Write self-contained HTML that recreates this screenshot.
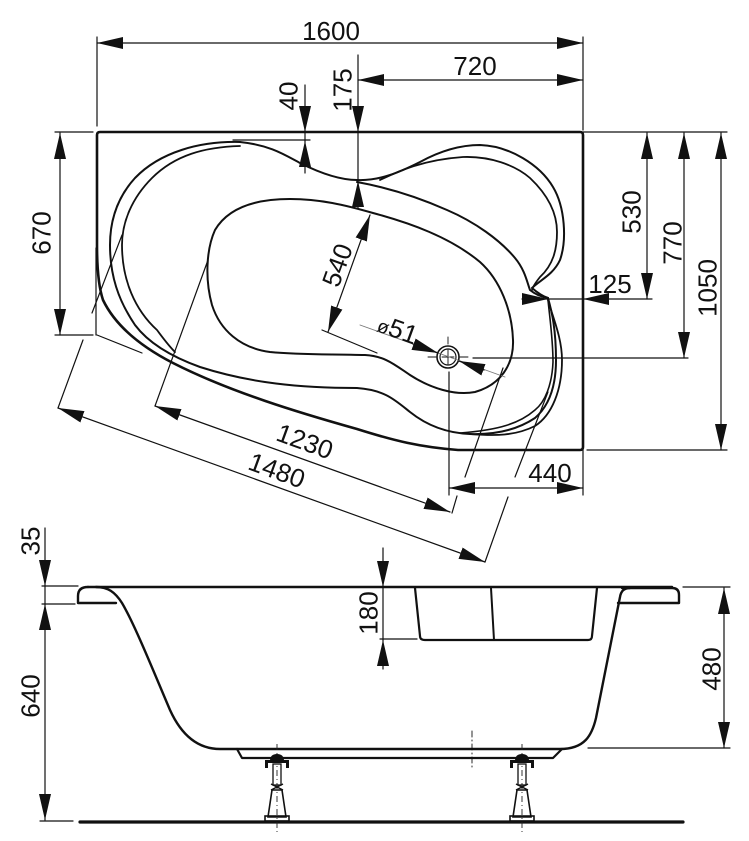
<!DOCTYPE html>
<html><head><meta charset="utf-8"><style>
html,body{margin:0;padding:0;background:#fff;}
svg{display:block;}
text{font-family:"Liberation Sans",Arial,sans-serif;font-size:26px;fill:#111;}
</style></head><body>
<svg width="749" height="841" viewBox="0 0 749 841" xmlns="http://www.w3.org/2000/svg">
<defs>
<marker id="ar" viewBox="0 0 26 12" refX="26" refY="6" markerWidth="26" markerHeight="12" markerUnits="userSpaceOnUse" orient="auto-start-reverse"><path d="M0,0 L26,6 L0,12 z" fill="#111"/></marker>
<g id="leg">
<line x1="0" y1="744" x2="0" y2="832" stroke="#222" stroke-width="0.9" stroke-dasharray="6 3 1 3"/>
<path d="M-7,761 Q-7,754 0,754 Q7,754 7,761 Z" fill="#111"/>
<rect x="-12" y="760" width="24" height="3" fill="#111"/>
<rect x="-12" y="760" width="3" height="8" fill="#111"/>
<rect x="9" y="760" width="3" height="8" fill="#111"/>
<rect x="-4" y="764" width="8" height="21" fill="none" stroke="#111" stroke-width="1.3"/>
<path d="M-6,784 L6,790 M6,784 L-6,790" stroke="#111" stroke-width="1.5"/>
<path d="M-5,790 L5,790 L9,817 L-9,817 Z" fill="none" stroke="#111" stroke-width="1.6"/>
<rect x="-12" y="816" width="24" height="5" fill="none" stroke="#111" stroke-width="1.6"/>
</g>
</defs>

<g fill="none" stroke="#111" stroke-linecap="round" stroke-linejoin="round">
<!-- ===== TOP VIEW ===== -->
<path d="M100,132 L580,132 Q583,132 583,135 L583,447 Q583,450 580,450 L458,450 C420,447 395,441 357,429 C300,413 230,392 173,363 C140,346 115,325 103,300 C98,285 97,265 97,245 L97,135 Q97,132 100,132 Z" stroke-width="2.6"/>
<!-- rim edge left/bottom -->
<path d="M240,142 C200,141 160,152 135,178 C115,200 110,225 110,245 C110,275 118,300 135,325 C150,345 175,358 200,367 C250,383 300,388 357,388 C385,390 395,400 410,412 C425,424 445,433 470,434 C500,435 520,428 535,418 C550,405 556,385 556,360 C556,330 552,312 548,298" stroke-width="2"/>
<!-- inner line left -->
<path d="M240,146 C205,147 175,155 152,178 C132,198 122,222 122,245 C122,280 135,310 157,330 C163,338 168,345 175,352" stroke-width="1.8"/>
<!-- outer right line -->
<path d="M548,300 C553,318 562,338 562,360 C562,390 552,415 535,426 C515,436 495,436 470,434" stroke-width="1.8"/>
<!-- inner right line -->
<path d="M548,300 C550,320 553,340 553,362 C552,385 545,402 535,410 C520,423 500,430 460,433" stroke-width="1.6"/>
<!-- upper rim with lobe -->
<path d="M240,142 C270,145 285,155 300,163 C320,173 340,180 357,180 C380,181 400,172 420,162 C440,151 460,145 480,145 C510,146 540,165 553,187 C565,207 567,240 560,260 C553,275 540,280 532,288 C540,295 545,297 548,298" stroke-width="2"/>
<!-- inner lobe -->
<path d="M380,180 C395,173 420,160 463,157 C490,156 515,165 530,178 C548,195 557,213 557,232 C557,250 553,265 540,277 C536,282 533,286 532,290" stroke-width="1.8"/>
<!-- dip to notch -->
<path d="M357,182 C390,188 420,198 447,210 C475,222 500,240 515,258 C525,270 527,282 530,290 C536,295 542,297 548,298" stroke-width="2"/>
<!-- basin -->
<path d="M290,199 C320,199 345,205 373,213 C410,223 450,237 480,262 C500,280 512,310 513,340 C514,365 500,385 475,392 C455,396 430,388 410,375 C395,365 385,356 365,355 C330,354 300,355 270,352 C240,348 220,330 212,305 C205,280 206,250 215,230 C228,208 255,199 290,199 Z" stroke-width="2"/>
<!-- drain -->
<circle cx="448" cy="357" r="11" stroke-width="1.6"/>
<circle cx="448" cy="357" r="8" stroke-width="1.2"/>
<path d="M428,357 L436,357 M442,357 L454,357 M460,357 L468,357 M448,337 L448,344 M448,350 L448,364" stroke-width="0.9"/>

<!-- dimension lines top view -->
<g stroke-width="1.2">
<line x1="97" y1="37" x2="97" y2="126"/>
<line x1="583" y1="37" x2="583" y2="130"/>
<line x1="97" y1="43" x2="583" y2="43" marker-start="url(#ar)" marker-end="url(#ar)"/>
<line x1="358" y1="80" x2="583" y2="80" marker-start="url(#ar)" marker-end="url(#ar)"/>
<line x1="358" y1="55" x2="358" y2="132" marker-end="url(#ar)"/>
<line x1="358" y1="132" x2="358" y2="180"/>
<line x1="358" y1="208" x2="358" y2="181" marker-end="url(#ar)"/>
<line x1="305" y1="85" x2="305" y2="132" marker-end="url(#ar)"/>
<line x1="305" y1="132" x2="305" y2="141"/>
<line x1="305" y1="173" x2="305" y2="141" marker-end="url(#ar)"/>
<line x1="233" y1="140" x2="310" y2="140"/>
<line x1="55" y1="132" x2="93" y2="132"/>
<line x1="55" y1="335" x2="93" y2="335"/>
<line x1="96" y1="248" x2="96" y2="335"/>
<line x1="97" y1="335" x2="142" y2="353"/>
<line x1="60" y1="133" x2="60" y2="335" marker-start="url(#ar)" marker-end="url(#ar)"/>
<line x1="583" y1="132" x2="727" y2="132"/>
<line x1="473" y1="358" x2="688" y2="358"/>
<line x1="587" y1="450" x2="727" y2="450"/>
<line x1="647" y1="133" x2="647" y2="299" marker-start="url(#ar)" marker-end="url(#ar)"/>
<line x1="684" y1="133" x2="684" y2="358" marker-start="url(#ar)" marker-end="url(#ar)"/>
<line x1="721" y1="133" x2="721" y2="450" marker-start="url(#ar)" marker-end="url(#ar)"/>
<line x1="522" y1="299" x2="548" y2="299" marker-end="url(#ar)"/>
<line x1="548" y1="299" x2="583" y2="299"/>
<line x1="652" y1="299" x2="583" y2="299" marker-end="url(#ar)"/>
<line x1="449" y1="372" x2="449" y2="495"/>
<line x1="583" y1="450" x2="583" y2="495"/>
<line x1="449" y1="488" x2="583" y2="488" marker-start="url(#ar)" marker-end="url(#ar)"/>
<line x1="360" y1="325" x2="505" y2="377" stroke="#777" stroke-width="0.9"/>
<line x1="413" y1="344" x2="438" y2="353" marker-end="url(#ar)"/>
<line x1="484" y1="370" x2="459" y2="361" marker-end="url(#ar)"/>
<line x1="322" y1="330" x2="377" y2="353"/>
<line x1="328" y1="332" x2="370" y2="215" marker-start="url(#ar)" marker-end="url(#ar)"/>
<line x1="155" y1="406" x2="208" y2="260"/>
<line x1="452" y1="513" x2="457" y2="496"/>
<line x1="465" y1="477" x2="503" y2="368"/>
<line x1="155" y1="406" x2="450" y2="512" marker-start="url(#ar)" marker-end="url(#ar)"/>
<line x1="58" y1="408" x2="83" y2="340"/>
<line x1="92" y1="313" x2="122" y2="235"/>
<line x1="485" y1="562" x2="508" y2="497"/>
<line x1="515" y1="477" x2="548" y2="392"/>
<line x1="58" y1="408" x2="485" y2="562" marker-start="url(#ar)" marker-end="url(#ar)"/>
</g>

<!-- ===== SIDE VIEW ===== -->
<path d="M88,587 L672,587" stroke-width="2.4"/>
<path d="M116,603 L78,603 L78,596 Q78,587 88,587" stroke-width="2.4"/>
<path d="M96,587 C108,587 115,592 122,603 C135,625 155,675 170,710 C180,732 195,749 220,749 L560,749 C585,749 592,735 596,718 L620,597 C621,591 624,588 630,588" stroke-width="2.4"/>
<path d="M622,588 L672,588 Q679,588 679,595 L679,603 L618,603" stroke-width="2.4"/>
<path d="M237,749 L242,758 L553,758 L562,749" stroke-width="2.2"/>
<path d="M415,588 L420,636 Q420,640 425,640 L588,640 Q592,640 592,636 L597,588" stroke-width="2.2"/>
<path d="M491,588 L494,640" stroke-width="2"/>
<line x1="80" y1="822" x2="683" y2="822" stroke-width="3.2"/>
<line x1="472" y1="731" x2="472" y2="770" stroke-width="0.9" stroke-dasharray="6 3 1 3"/>

<g stroke-width="1.2">
<line x1="42" y1="586" x2="78" y2="586"/>
<line x1="42" y1="604" x2="75" y2="604"/>
<line x1="40" y1="821" x2="73" y2="821"/>
<line x1="45" y1="528" x2="45" y2="586" marker-end="url(#ar)"/>
<line x1="45" y1="586" x2="45" y2="604"/>
<line x1="45" y1="604" x2="45" y2="820" marker-start="url(#ar)" marker-end="url(#ar)"/>
<line x1="383" y1="548" x2="383" y2="587" marker-end="url(#ar)"/>
<line x1="383" y1="587" x2="383" y2="640"/>
<line x1="383" y1="669" x2="383" y2="640" marker-end="url(#ar)"/>
<line x1="380" y1="639" x2="417" y2="639"/>
<line x1="683" y1="587" x2="730" y2="587"/>
<line x1="588" y1="748" x2="730" y2="748"/>
<line x1="724" y1="588" x2="724" y2="748" marker-start="url(#ar)" marker-end="url(#ar)"/>
</g>
</g>

<use href="#leg" transform="translate(277,0)"/>
<use href="#leg" transform="translate(522,0)"/>

<!-- ===== TEXT ===== -->
<text x="331" y="40" text-anchor="middle">1600</text>
<text x="475" y="75" text-anchor="middle">720</text>
<text x="610" y="293" text-anchor="middle">125</text>
<text x="550" y="482" text-anchor="middle">440</text>
<text transform="translate(288,96) rotate(-90)" x="0" y="9.3" text-anchor="middle">40</text>
<text transform="translate(342,90) rotate(-90)" x="0" y="9.3" text-anchor="middle">175</text>
<text transform="translate(41,233) rotate(-90)" x="0" y="9.3" text-anchor="middle">670</text>
<text transform="translate(631,212) rotate(-90)" x="0" y="9.3" text-anchor="middle">530</text>
<text transform="translate(672,243) rotate(-90)" x="0" y="9.3" text-anchor="middle">770</text>
<text transform="translate(707,288) rotate(-90)" x="0" y="9.3" text-anchor="middle">1050</text>
<text transform="translate(337,265) rotate(-70)" x="0" y="9.3" text-anchor="middle">540</text>
<text transform="translate(398,329) rotate(20)" x="0" y="9.3" text-anchor="middle" font-size="28"><tspan font-size="19">ø</tspan>51</text>
<text transform="translate(305,441) rotate(20)" x="0" y="9.3" text-anchor="middle">1230</text>
<text transform="translate(277,470) rotate(20)" x="0" y="9.3" text-anchor="middle">1480</text>
<text transform="translate(30,541) rotate(-90)" x="0" y="9.3" text-anchor="middle">35</text>
<text transform="translate(30,696) rotate(-90)" x="0" y="9.3" text-anchor="middle">640</text>
<text transform="translate(368,613) rotate(-90)" x="0" y="9.3" text-anchor="middle">180</text>
<text transform="translate(711,669) rotate(-90)" x="0" y="9.3" text-anchor="middle">480</text>
</svg>
</body></html>
